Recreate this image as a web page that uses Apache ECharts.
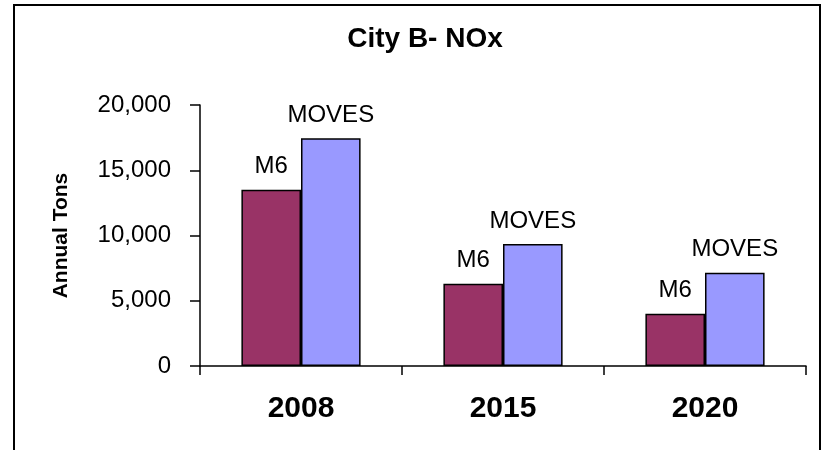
<!DOCTYPE html>
<html>
<head>
<meta charset="utf-8">
<script src="https://cdn.jsdelivr.net/npm/echarts@6/dist/echarts.min.js"></script>
<style>
html, body { margin: 0; padding: 0; background: #fff; }
#chart { width: 827px; height: 450px; }
</style>
</head>
<body>
<div id="chart"></div>
<script>
var years = ['2008', '2015', '2020']
var m6_data = [13500, 6300, 4000]
var moves_data = [17450, 9350, 7150]
var y_ticks = [0, 5000, 10000, 15000, 20000]

var font = 'Liberation Sans, Arial, sans-serif'

function bar_label(name) {
	return {
		show: true,
		position: 'top',
		distance: 11,
		color: '#000',
		fontFamily: font,
		fontSize: 24,
		formatter: name
	}
}

var chart = echarts.init(document.getElementById('chart'))
var option = {
	backgroundColor: '#fff',
	animation: false,
	title: {
		text: 'City B- NOx',
		left: 420,
		top: 20,
		textAlign: 'center',
		textStyle: {
			color: '#000',
			fontFamily: font,
			fontWeight: 'bold',
			fontSize: 28
		}
	},
	graphic: [{
		type: 'rect',
		shape: { x: 14, y: 5, width: 806, height: 460 },
		style: { fill: 'none', stroke: '#000', lineWidth: 2 },
		silent: true
	}],
	grid: {
		left: 200,
		right: 21,
		top: 105,
		bottom: 84
	},
	xAxis: {
		type: 'category',
		data: years,
		axisLine: { lineStyle: { color: '#000', width: 1.5 } },
		axisTick: { show: true, length: 9, lineStyle: { color: '#000', width: 1.5 } },
		axisLabel: {
			margin: 28,
			color: '#000',
			fontFamily: font,
			fontWeight: 'bold',
			fontSize: 30
		}
	},
	yAxis: {
		type: 'value',
		min: y_ticks[0],
		max: y_ticks[y_ticks.length - 1],
		interval: 5000,
		name: 'Annual Tons',
		nameLocation: 'middle',
		nameGap: 128,
		nameTextStyle: {
			color: '#000',
			fontFamily: font,
			fontWeight: 'bold',
			fontSize: 21
		},
		axisLine: { show: true, lineStyle: { color: '#000', width: 1.5 } },
		axisTick: { show: true, length: 10, lineStyle: { color: '#000', width: 1.5 } },
		splitLine: { show: false },
		axisLabel: {
			margin: 29,
			color: '#000',
			fontFamily: font,
			fontSize: 24,
			formatter: function (v) { return v.toLocaleString('en-US') }
		}
	},
	series: [
		{
			name: 'M6',
			type: 'bar',
			data: m6_data,
			barGap: '0%',
			barCategoryGap: '41%',
			itemStyle: { color: '#993366', borderColor: '#000', borderWidth: 1.5 },
			label: bar_label('M6')
		},
		{
			name: 'MOVES',
			type: 'bar',
			data: moves_data,
			barGap: '0%',
			barCategoryGap: '41%',
			itemStyle: { color: '#9999FF', borderColor: '#000', borderWidth: 1.5 },
			label: bar_label('MOVES')
		}
	]
}
chart.setOption(option)
</script>
</body>
</html>
